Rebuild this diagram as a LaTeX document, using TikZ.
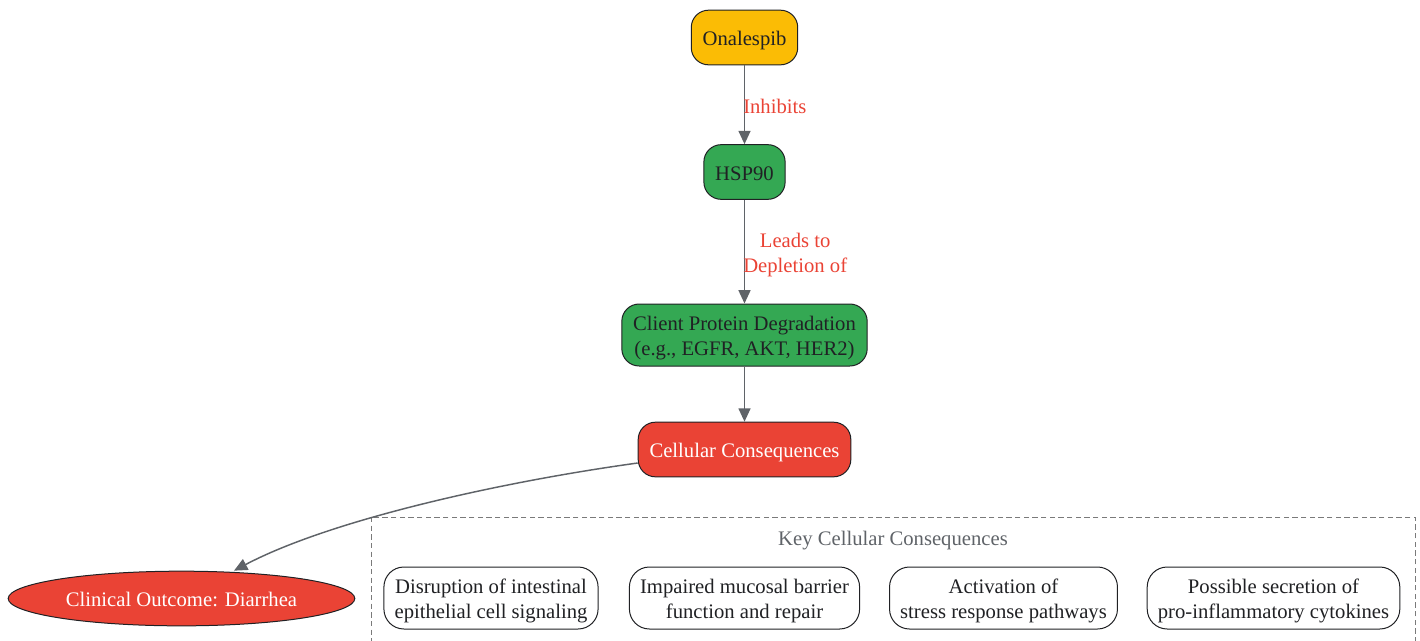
\documentclass[tikz,border=0pt]{standalone}
\usepackage{fontspec}
\setmainfont{Liberation Serif}
\usetikzlibrary{arrows.meta, shapes.geometric, positioning}

% colours of the figure
\definecolor{drugyellow}{HTML}{FBBC05}
\definecolor{hspgreen}{HTML}{34A853}
\definecolor{effectred}{HTML}{EA4335}
\definecolor{edgegrey}{HTML}{5F6368}
\definecolor{ink}{HTML}{202124}
\definecolor{clustergrey}{HTML}{7A7A7A}

% two text lines, first one with a strut
\newcommand{\twolines}[2]{\rule{0pt}{16.5pt}#1\\#2}

\begin{document}
\begin{tikzpicture}[x=0.75pt, y=-0.75pt,
  % struts put the baselines where the reference has them
  txt/.style={font=\fontsize{15.5}{18.75}\selectfont,
    execute at begin node={\rule{0pt}{16.5pt}},
    execute at end node={\rule[-4pt]{0pt}{4pt}}},
  pathbox/.style={txt, draw=ink, line width=0.75pt, rounded corners=13pt,
    minimum height=41pt, inner xsep=8.5pt, inner ysep=0pt, align=center, text=ink},
  effectbox/.style={txt, draw=ink, line width=0.75pt, fill=white, rounded corners=15pt,
    minimum height=46.5pt, inner xsep=8pt, inner ysep=0pt, align=center, text=ink},
  link/.style={draw=edgegrey, line width=1.1pt, -{Triangle[length=10pt,width=9pt]}},
  linklabel/.style={txt, text=effectred, inner sep=0pt, align=center}]

% page size of the reference
\useasboundingbox (0,0) rectangle (1420,640);

% main chain of the pathway
\node[pathbox, fill=drugyellow] (drug) at (744.5,37.5) {Onalespib};
\node[pathbox, fill=hspgreen] (hsp) at (744.5,172) {HSP90};
\node[pathbox, fill=hspgreen, minimum height=46.5pt] (client) at (744.5,335)
  {\twolines{Client Protein Degradation}{(e.g., EGFR, AKT, HER2)}};
\node[pathbox, fill=effectred, text=white] (cell) at (744.5,449.5) {Cellular Consequences};

% clinical outcome
\node[txt, ellipse, draw=ink, line width=0.75pt, fill=effectred, text=white,
  minimum width=260pt, minimum height=41pt, inner sep=0pt] (outcome) at (181.5,598.5)
  {Clinical Outcome: Diarrhea};

% dashed cluster with the cellular consequences
\draw[clustergrey, dash pattern=on 4pt off 2.5pt, line width=0.75pt] (371,517) rectangle (1415,660);
\node[txt, text=edgegrey] (keytitle) at (893,537) {Key Cellular Consequences};

\node[effectbox] (signal) at (491,598) {\twolines{Disruption of intestinal}{epithelial cell signaling}};
\node[effectbox] (barrier) at (744.5,598) {\twolines{Impaired mucosal barrier}{function and repair}};
\node[effectbox] (stress) at (1003.5,598) {\twolines{Activation of}{stress response pathways}};
\node[effectbox] (cytokine) at (1273.5,598) {\twolines{Possible secretion of}{pro-inflammatory cytokines}};

% arrows
\draw[link] (drug) -- (hsp);
\node[linklabel, anchor=west] (inhibits) at (743,105) {Inhibits};
\draw[link] (hsp) -- (client);
\node[linklabel, anchor=west] (leads) at (743,252) {\twolines{Leads to}{Depletion of}};
\draw[link] (client) -- (cell);
\draw[link] (cell.west |- 0,463) .. controls (500,482) and (330,520) .. (outcome.north -| 234,0);

\end{tikzpicture}
\end{document}
